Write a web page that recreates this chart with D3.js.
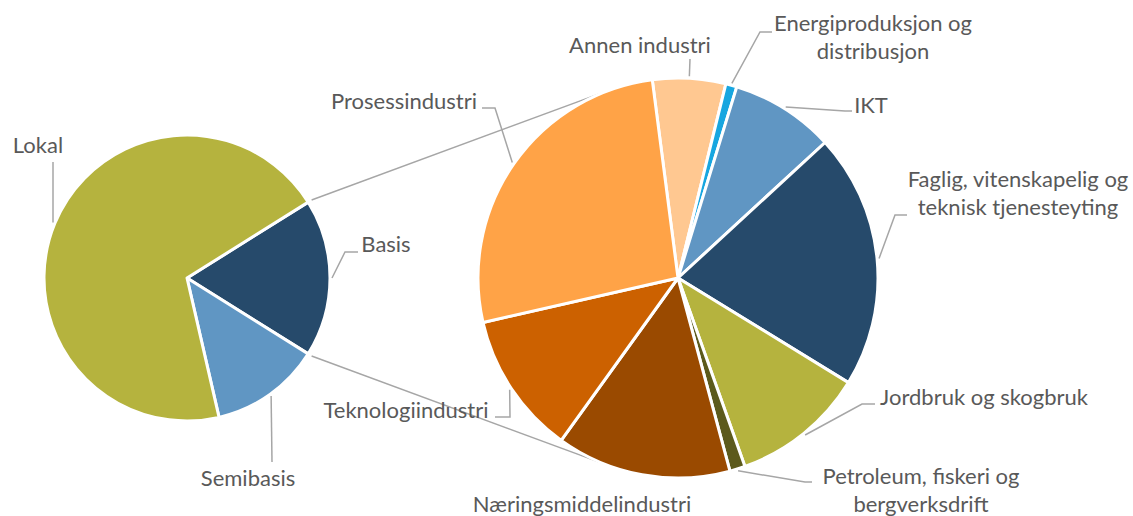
<!DOCTYPE html>
<html>
<head>
<meta charset="utf-8">
<script src="https://cdn.jsdelivr.net/npm/d3@7"></script>
<style>
  body { margin: 0; background: #fff; }
  text { font-family: Lato, "Open Sans", sans-serif; font-size: 22px; fill: #595959; }
</style>
</head>
<body>
<div id="chart"></div>
<script>
// main pie: share of employment by type
var mainCategories = ["Basis", "Semibasis", "Lokal"];
var mainValues = [17.8, 12.5, 69.7];
var mainColors = ["#264A6B", "#6096C3", "#B5B33E"];

// second pie: breakdown of "Basis"
var basisCategories = ["Annen industri", "Energiproduksjon og distribusjon", "IKT",
    "Faglig, vitenskapelig og teknisk tjenesteyting", "Jordbruk og skogbruk",
    "Petroleum, fiskeri og bergverksdrift", "Næringsmiddelindustri",
    "Teknologiindustri", "Prosessindustri"];
var basisValues = [5.9, 0.9, 8.4, 20.6, 10.8, 1.25, 14.1, 11.5, 26.5];
var basisColors = ["#FFC891", "#17A6E0", "#6096C3", "#264A6B", "#B5B33E",
    "#5C5A1C", "#9A4A00", "#CC6100", "#FFA347"];

var width = 1133, height = 516;
var deg = Math.PI / 180;

var mainPie = { cx: 187, cy: 278, r: 143 };
var subPie = { cx: 678, cy: 278, r: 200 };

// label layout: text lines + anchor position, elbow points for leader
var labelLayout = {
    "Lokal": { x: 38, y: 153, lines: ["Lokal"], elbow: [[53, 162]] },
    "Basis": { x: 386, y: 252, lines: ["Basis"], elbow: [[345, 252], [358, 252]] },
    "Semibasis": { x: 248, y: 486, lines: ["Semibasis"], elbow: [[272, 462]] },
    "Annen industri": { x: 640, y: 53, lines: ["Annen industri"], elbow: [[690, 59]] },
    "Energiproduksjon og distribusjon": { x: 873, y: 31, lines: ["Energiproduksjon og", "distribusjon"], elbow: [[760, 32], [772, 32]] },
    "IKT": { x: 871, y: 113, lines: ["IKT"], elbow: [[845, 111], [852, 111]] },
    "Faglig, vitenskapelig og teknisk tjenesteyting": { x: 1018, y: 187, lines: ["Faglig, vitenskapelig og", "teknisk tjenesteyting"], elbow: [[895, 215], [907, 215]] },
    "Jordbruk og skogbruk": { x: 984, y: 405, lines: ["Jordbruk og skogbruk"], elbow: [[862, 404], [875, 404]] },
    "Petroleum, fiskeri og bergverksdrift": { x: 921, y: 484, lines: ["Petroleum, fiskeri og", "bergverksdrift"], elbow: [[805, 482], [812, 482]] },
    "Næringsmiddelindustri": { x: 582, y: 512, lines: ["Næringsmiddelindustri"], elbow: null },
    "Teknologiindustri": { x: 406, y: 418, lines: ["Teknologiindustri"], elbow: [[510, 417], [495, 417]] },
    "Prosessindustri": { x: 404, y: 109, lines: ["Prosessindustri"], elbow: [[495, 108], [482, 108]] }
};

var svg = d3.select("#chart")
    .append("svg")
    .attr("width", width)
    .attr("height", height);

// compute pie layouts
var mainTotal = d3.sum(mainValues);
var basisAngle = mainValues[0] / mainTotal * 2 * Math.PI;
var mainArcs = d3.pie()
    .sort(null)
    .startAngle(Math.PI / 2 - basisAngle / 2)
    .endAngle(Math.PI / 2 - basisAngle / 2 + 2 * Math.PI)
    .value(function(d) { return d; })(mainValues);

var subStart = -7.4 * deg;
var subArcs = d3.pie()
    .sort(null)
    .startAngle(subStart)
    .endAngle(subStart + 2 * Math.PI)
    .value(function(d) { return d; })(basisValues);

function polar(c, r, a) {
    return [c.cx + r * Math.sin(a), c.cy - r * Math.cos(a)];
}

// connector lines from Basis slice edges to tangent points on second pie
function tangent(p, c, side) {
    var dx = c.cx - p[0], dy = c.cy - p[1];
    var d = Math.sqrt(dx * dx + dy * dy);
    var base = Math.atan2(dy, dx);
    var off = Math.asin(c.r / d);
    var len = Math.sqrt(d * d - c.r * c.r);
    var a = base + side * off;
    return [p[0] + len * Math.cos(a), p[1] + len * Math.sin(a)];
}
var basisArc = mainArcs[0];
var p1 = polar(mainPie, mainPie.r + 4, basisArc.startAngle);
var p2 = polar(mainPie, mainPie.r + 4, basisArc.endAngle);
svg.append("g")
    .selectAll("line")
    .data([[p1, tangent(p1, subPie, -1)], [p2, tangent(p2, subPie, 1)]])
    .enter()
    .append("line")
    .attr("x1", function(d) { return d[0][0]; })
    .attr("y1", function(d) { return d[0][1]; })
    .attr("x2", function(d) { return d[1][0]; })
    .attr("y2", function(d) { return d[1][1]; })
    .attr("stroke", "#A6A6A6")
    .attr("stroke-width", 1.5);

// draw pies
function drawPie(arcs, c, colors) {
    var g = svg.append("g")
        .attr("transform", "translate(" + c.cx + "," + c.cy + ")");
    g.selectAll("path")
        .data(arcs)
        .enter()
        .append("path")
        .attr("d", d3.arc().innerRadius(0).outerRadius(c.r))
        .attr("fill", function(d, i) { return colors[i]; })
        .attr("stroke", "white")
        .attr("stroke-width", 3)
        .attr("stroke-linejoin", "round");
}
drawPie(mainArcs, mainPie, mainColors);
drawPie(subArcs, subPie, basisColors);

// labels + leader lines
function drawLabels(arcs, c, cats) {
    arcs.forEach(function(d, i) {
        var lay = labelLayout[cats[i]];
        if (lay.elbow) {
            var mid = (d.startAngle + d.endAngle) / 2;
            var pts = [polar(c, c.r + 2, mid)].concat(lay.elbow);
            svg.append("path")
                .attr("d", d3.line()(pts))
                .attr("fill", "none")
                .attr("stroke", "#A6A6A6")
                .attr("stroke-width", 1.5);
        }
        var t = svg.append("text")
            .attr("x", lay.x)
            .attr("y", lay.y)
            .attr("text-anchor", "middle");
        lay.lines.forEach(function(line, j) {
            t.append("tspan")
                .attr("x", lay.x)
                .attr("dy", j === 0 ? 0 : 28)
                .text(line);
        });
    });
}
drawLabels(mainArcs, mainPie, mainCategories);
drawLabels(subArcs, subPie, basisCategories);
</script>
</body>
</html>
